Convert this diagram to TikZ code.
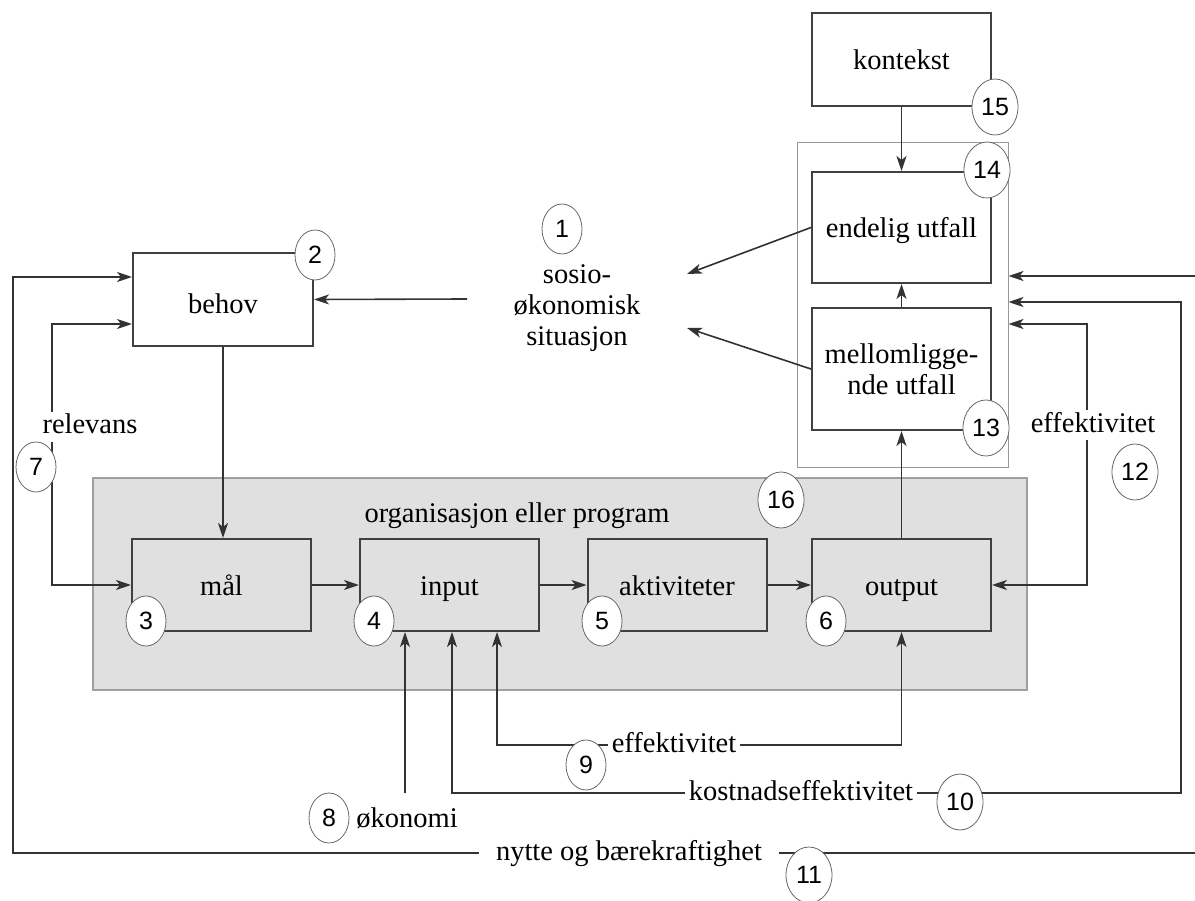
\documentclass[tikz,border=0pt]{standalone}
\usepackage{fontspec}
\setmainfont{Liberation Serif}[Ligatures=NoCommon]
\newfontfamily\numfont{Liberation Sans}
\usetikzlibrary{arrows.meta,shapes.geometric}
\begin{document}
\begin{tikzpicture}[x=1pt,y=-1pt,
  line/.style={draw=black!80, line width=1.6pt},
  tip/.tip={Stealth[length=15pt,width=10pt,inset=4pt]},
  arr/.style={line, -tip},
  darr/.style={line, tip-tip},
  box/.style={draw=black!75, line width=2pt, minimum width=179pt, inner sep=0pt, font=\fontsize{28.5}{31}\selectfont, align=center, text height=24pt, text depth=3pt},
  num/.style={ellipse, draw=black!60, line width=0.8pt, fill=white, inner sep=0pt, minimum width=40pt, minimum height=50pt, font=\numfont\fontsize{25}{25}\selectfont},
  bignum/.style={num, minimum width=46pt, minimum height=56pt},
  txt/.style={font=\fontsize{28.5}{31}\selectfont, text height=20pt, text depth=6pt, inner sep=0pt},
  lbl/.style={txt, fill=white, inner xsep=4pt, inner ysep=2pt},
]
\clip (0,0) rectangle (1195,901);
\fill[white] (0,0) rectangle (1195,901);

% containers
\node[fill=gray!24, draw=gray!75, line width=1.2pt, minimum width=934pt, minimum height=212pt, inner sep=0pt] (org) at (560,584) {};
\node[draw=black!40, line width=1pt, minimum width=211pt, minimum height=324pt, inner sep=0pt] (frame) at (902.5,305) {};

% boxes
\node[box, minimum height=93pt] (kontekst) at (901.5,59.5) {kontekst};
\node[box, minimum height=111pt] (endelig) at (901.5,227.5) {endelig utfall};
\node[box, minimum height=122pt, text height={}, text depth={}] (mellom) at (901.5,369) {mellomligge-\\nde utfall};
\node[box, minimum width=180pt, minimum height=93pt, text height=28pt, text depth=0pt] (behov) at (223,299.5) {behov};
\node[box, minimum height=92pt] (maal) at (221.5,585) {mål};
\node[box, minimum height=92pt] (input) at (449.5,585) {input};
\node[box, minimum height=92pt] (akt) at (677,585) {aktiviteter};
\node[box, minimum height=92pt] (output) at (901.5,585) {output};

\node[txt] (orgtxt) at (517,515) {organisasjon eller program};
\node[font=\fontsize{28.5}{31}\selectfont, align=center, inner sep=0pt] (sosio) at (577,308) {sosio-\\økonomisk\\situasjon};

% coordinates
\coordinate (s1) at (687,274);
\coordinate (s2) at (687,328);
\coordinate (s3) at (467,299);
\coordinate (y276) at (0,276);
\coordinate (y277) at (0,277);
\coordinate (y302) at (0,302);
\coordinate (y324) at (0,324);
\coordinate (y9) at (0,745);
\coordinate (c7) at (52,585);
\coordinate (cL) at (13,853);
\coordinate (cR) at (1198,853);
\coordinate (c10) at (1181,793);
\coordinate (c12) at (1087,585);
\coordinate (e8) at (405,793);

% connectors
\draw[arr] (kontekst.south) -- (endelig.north);
\draw[arr] (mellom.north) -- (endelig.south);
\draw[arr] (output.north) -- (mellom.south);
\draw[arr] (behov.south) -- (behov.south |- maal.north);
\draw[arr] (maal.east) -- (input.west);
\draw[arr] (input.east) -- (akt.west);
\draw[arr] (akt.east) -- (output.west);
\draw[arr] (endelig.west) -- (s1);
\draw[arr] (mellom.west) -- (s2);
\draw[arr] (s3) -- (behov.east);
\draw[darr] (behov.west |- y277) -| (cL) -- (cR) |- (frame.east |- y276);
\draw[darr] (behov.west |- y324) -| (c7) -- (maal.west);
\draw[arr] (e8) -- (e8 |- input.south);
\draw[darr] ([xshift=2.5pt]input.south) |- (c10) |- (frame.east |- y302);
\draw[darr] ([xshift=47.5pt]input.south) |- (y9 -| output.south) -- (output.south);
\draw[darr] (output.east) -- (c12) |- (frame.east |- y324);

% labels
\node[lbl] (rel) at (90,427) {relevans};
\node[lbl] (eff12) at (1093,425) {effektivitet};
\node[lbl] (eff9) at (674,745) {effektivitet};
\node[lbl] (kost) at (801,793) {kostnadseffektivitet};
\node[txt] (oko) at (407,820) {økonomi};
\node[lbl, minimum width=300pt] (nytte) at (629,853) {nytte og bærekraftighet};

% numbers
\node[num] (n1) at (562,229) {1};
\node[num] (n2) at (315,255) {2};
\node[num] (n3) at (146,621) {3};
\node[num] (n4) at (374,621) {4};
\node[num] (n5) at (602,621) {5};
\node[num] (n6) at (826,621) {6};
\node[num] (n7) at (36,467) {7};
\node[num] (n8) at (329,818) {8};
\node[num] (n9) at (586,765) {9};
\node[bignum] (n10) at (960,802) {10};
\node[bignum] (n11) at (809,875) {11};
\node[bignum] (n12) at (1135,472) {12};
\node[bignum] (n13) at (986,428) {13};
\node[bignum] (n14) at (987,170) {14};
\node[bignum] (n15) at (995,107) {15};
\node[bignum] (n16) at (781,500) {16};
\end{tikzpicture}
\end{document}
